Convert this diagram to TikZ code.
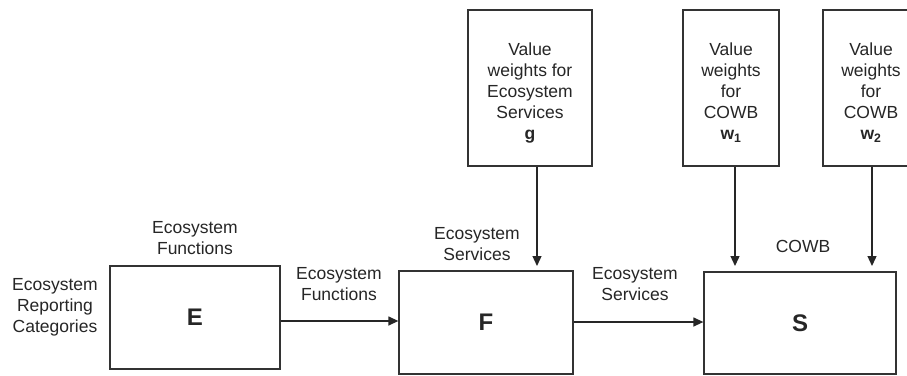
\documentclass[tikz,border=0pt]{standalone}
\usepackage{fontspec}
\setmainfont{Liberation Sans}
\usetikzlibrary{arrows.meta}
\begin{document}
\begin{tikzpicture}[x=1pt,y=-1pt,
  lbl/.style={align=center,inner sep=0pt,font=\fontsize{17.5}{21}\selectfont,text=black!85},
  box/.style={draw=black!80,line width=1.3pt,inner sep=0pt,align=center,font=\fontsize{17.5}{21}\selectfont,text=black!85},
  big/.style={font=\fontsize{24}{28}\selectfont\bfseries},
  conn/.style={draw=black!85,line width=1.3pt,-{Triangle[length=10pt,width=9pt]}}]
\clip (0,0) rectangle (907,375);
\fill[white] (0,0) rectangle (907,375);
% main boxes
\node[box,big,minimum width=170pt,minimum height=103pt] (E) at (195,317.5) {E};
\node[box,big,minimum width=174pt,minimum height=103pt] (F) at (486,322.5) {F};
\node[box,big,minimum width=192pt,minimum height=102pt] (S) at (800,323) {S};
% weight boxes
\node[box,minimum width=124pt,minimum height=156pt] (G) at (530,88) {\rule{0pt}{22pt}Value\\weights for\\Ecosystem\\Services\\\textbf{g}};
\node[box,minimum width=96pt,minimum height=156pt] (W1) at (731,88) {\rule{0pt}{22pt}Value\\weights\\for\\COWB\\$\mathbf{w}_{\mathbf{1}}$};
\node[box,minimum width=96pt,minimum height=156pt] (W2) at (871,88) {\rule{0pt}{22pt}Value\\weights\\for\\COWB\\$\mathbf{w}_{\mathbf{2}}$};
% arrow endpoints
\coordinate (gT) at (537,266);
\coordinate (w1T) at (735,266);
\coordinate (w2T) at (872,266);
\draw[conn] (G.south -| gT) -- (gT);
\draw[conn] (W1.south -| w1T) -- (w1T);
\draw[conn] (W2.south -| w2T) -- (w2T);
\draw[conn] (E.east |- 0,321) -- (F.west |- 0,321);
\draw[conn] (F.east |- 0,322) -- (S.west |- 0,322);
% labels
\node[lbl] (erc) at (55,307) {Ecosystem\\Reporting\\Categories};
\node[lbl] (ef1) at (195,238) {Ecosystem\\Functions};
\node[lbl] (ef2) at (339,284) {Ecosystem\\Functions};
\node[lbl] (es1) at (477,244) {Ecosystem\\Services};
\node[lbl] (es2) at (635,284) {Ecosystem\\Services};
\node[lbl] (cowb) at (803,246) {COWB};
\end{tikzpicture}
\end{document}
